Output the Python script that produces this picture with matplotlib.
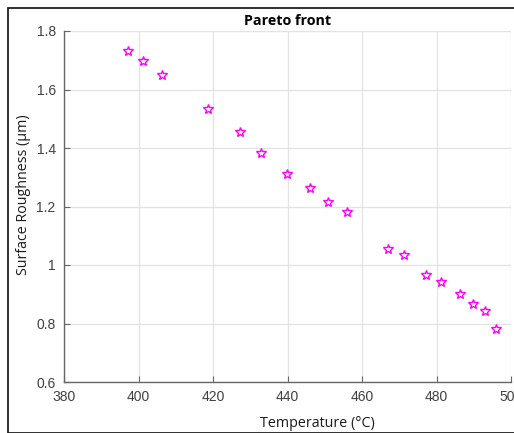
import numpy as np
import matplotlib
matplotlib.use("Agg")
import matplotlib.pyplot as plt
from matplotlib.patches import Rectangle

# Pareto front points
temperature = [397.2, 401.2, 406.3, 418.6, 427.3, 432.8, 439.9, 446.0, 450.8, 455.9,
               467.1, 471.2, 477.3, 481.1, 486.2, 489.9, 493.1, 495.9]
roughness = [1.732, 1.697, 1.650, 1.533, 1.455, 1.383, 1.311, 1.263, 1.215, 1.181,
             1.056, 1.034, 0.966, 0.942, 0.901, 0.868, 0.843, 0.781]

x_ticks = [380, 400, 420, 440, 460, 480, 500]
y_ticks = [0.6, 0.8, 1.0, 1.2, 1.4, 1.6, 1.8]
y_tick_labels = ["0.6", "0.8", "1", "1.2", "1.4", "1.6", "1.8"]

W, H = 514, 433
fig = plt.figure(figsize=(W / 100, H / 100), dpi=100)
ax = fig.add_axes([64 / W, 1 - 382 / H, (511 - 64) / W, (382 - 31) / H])

# figure frame like the original window border
fig.patches.append(Rectangle((8 / W, 0.5 / H), 1.2, (432 - 7.5) / H,
                             transform=fig.transFigure, fill=False,
                             edgecolor="#202020", linewidth=1.3))

ax.plot(temperature, roughness, linestyle="none", marker="*", markersize=7.5,
        markerfacecolor="none", markeredgecolor="#ff00ff", markeredgewidth=1.0)

ax.set_xlim(380, 500)
ax.set_ylim(0.6, 1.8)
ax.set_xticks(x_ticks)
ax.set_yticks(y_ticks)
ax.set_yticklabels(y_tick_labels)

ax.grid(True, color="#e3e3e3", linewidth=0.9)
ax.set_axisbelow(True)
for side in ["top", "right"]:
    ax.spines[side].set_visible(False)
for side in ["left", "bottom"]:
    ax.spines[side].set_color("#666666")
    ax.spines[side].set_linewidth(1.0)

ax.tick_params(direction="in", length=4, width=0.8, color="#666666",
               labelcolor="#404040", labelsize=10)
ax.tick_params(axis="x", pad=6)
ax.tick_params(axis="y", pad=6)
for lab in ax.get_xticklabels() + ax.get_yticklabels():
    lab.set_family("Liberation Sans")

ax.set_title("Pareto front", fontsize=10.3, fontweight="bold", family="Open Sans", pad=4)
ax.set_xlabel("Temperature (°C)", fontsize=10.3, family="Open Sans", color="#1a1a1a")
ax.set_ylabel("Surface Roughness (µm)", fontsize=10.3, family="Open Sans", color="#1a1a1a")
# label anchors: top of the x label, right side of the rotated y label
ax.xaxis.set_label_coords((317 - 64) / (511 - 64), -(416 - 382) / (382 - 31))
ax.yaxis.set_label_coords(-(64 - 31) / (511 - 64), (382 - 195) / (382 - 31))

fig.savefig("out.png", dpi=100)
